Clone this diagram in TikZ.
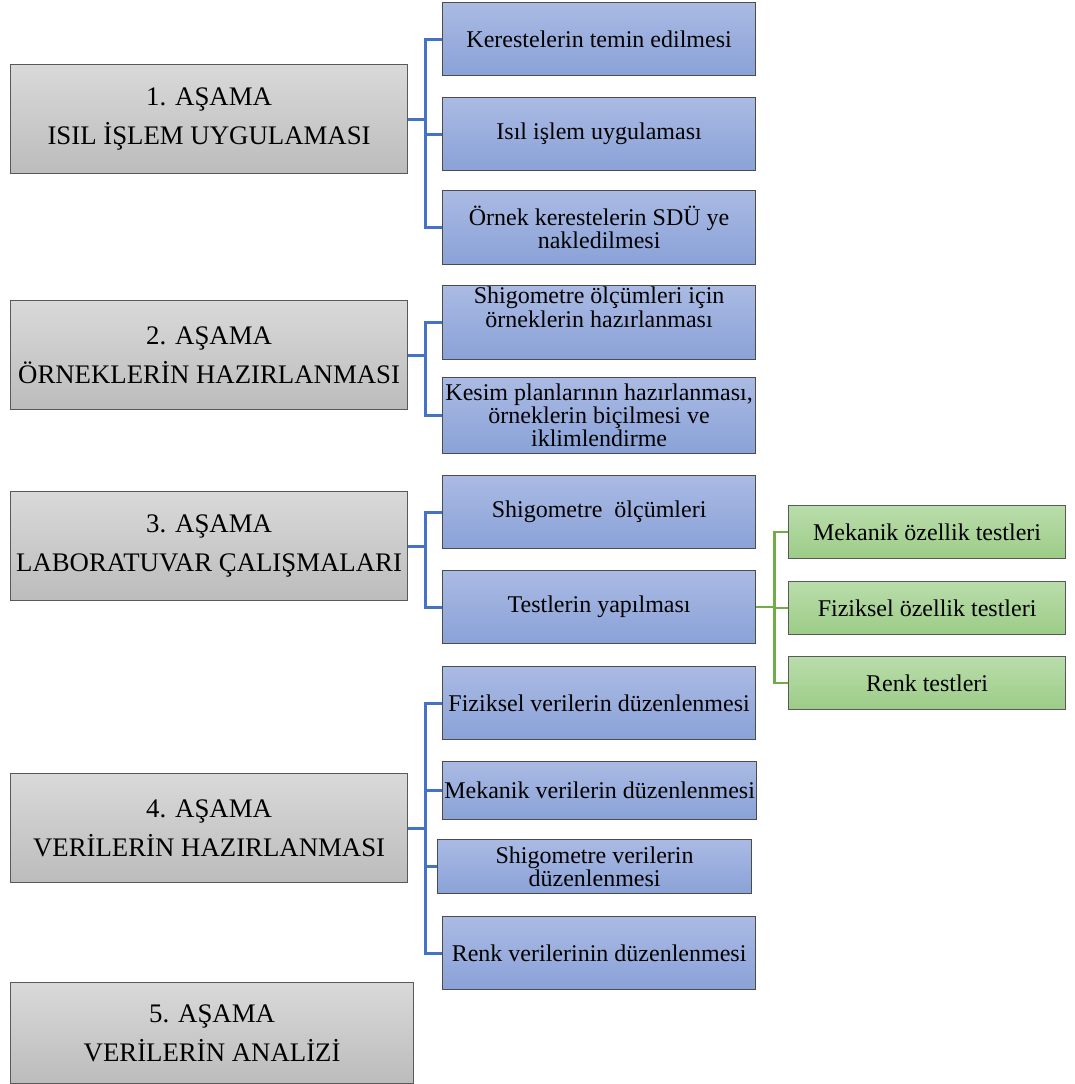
\documentclass[tikz,border=0pt]{standalone}
\usepackage{fontspec}
\setmainfont{Liberation Serif}
\usetikzlibrary{positioning}
\definecolor{stage-top}{HTML}{D9D9D9}
\definecolor{stage-bot}{HTML}{BCBCBC}
\definecolor{step-top}{HTML}{AABAE3}
\definecolor{step-bot}{HTML}{8AA2D8}
\definecolor{test-top}{HTML}{BADDAB}
\definecolor{test-bot}{HTML}{9CCC87}
\definecolor{link-blue}{HTML}{4472C4}
\definecolor{link-green}{HTML}{70AD47}
\tikzset{
  stagebox/.style={draw=black!65, line width=0.6pt, top color=stage-top, bottom color=stage-bot,
    anchor=north west, inner sep=0pt, minimum width=198.5pt, minimum height=54.5pt,
    align=center, font=\fontsize{13.4}{19.5}\selectfont},
  stepbox/.style={draw=black!70, line width=0.6pt, top color=step-top, bottom color=step-bot,
    anchor=north west, inner sep=0pt, minimum width=156.5pt, minimum height=36.5pt,
    align=center, font=\fontsize{12}{11.5}\selectfont},
  testbox/.style={draw=black!65, line width=0.6pt, top color=test-top, bottom color=test-bot,
    anchor=north west, inner sep=0pt, minimum width=138.5pt, minimum height=26.5pt,
    align=center, font=\fontsize{12}{11.5}\selectfont},
  steptext/.style={inner sep=0pt, align=center, font=\fontsize{12}{10.5}\selectfont},
  bluelink/.style={draw=link-blue, line width=1.5pt},
  greenlink/.style={draw=link-green, line width=1.35pt}
}

\begin{document}
\begin{tikzpicture}[x=0.5pt, y=-0.5pt]
    \useasboundingbox (0,0) rectangle (1075,1084);
    % ── stages (left column)
    \node[stagebox] (s1) at (10,64)  {1. AŞAMA\\ISIL İŞLEM UYGULAMASI};
    \node[stagebox] (s2) at (10,300) {2. AŞAMA\\ÖRNEKLERİN HAZIRLANMASI};
    \node[stagebox] (s3) at (10,491) {3. AŞAMA\\LABORATUVAR ÇALIŞMALARI};
    \node[stagebox] (s4) at (10,773) {4. AŞAMA\\VERİLERİN HAZIRLANMASI};
    \node[stagebox, minimum width=201.5pt, minimum height=50.5pt] (s5) at (10,982)
          {5. AŞAMA\\VERİLERİN ANALİZİ};
    % ── steps (middle column)
    \node[stepbox] (b1) at (442,2)   {Kerestelerin temin edilmesi};
    \node[stepbox] (b2) at (442,97)  {Isıl işlem uygulaması};
    \node[stepbox, minimum height=37pt] (b3) at (442,190)
          {Örnek kerestelerin SDÜ ye\\nakledilmesi};
    \node[stepbox, minimum height=37pt] (b4) at (442,285) {};
    \node[steptext] (b4-text) at ([yshift=7.5pt]b4.center)
          {Shigometre ölçümleri için\\örneklerin hazırlanması};
    \node[stepbox, minimum height=38pt] (b5) at (442,377)
          {Kesim planlarının hazırlanması,\\örneklerin biçilmesi ve\\iklimlendirme};
    \node[stepbox] (b6) at (442,475) {Shigometre~ ölçümleri};
    \node[stepbox] (b7) at (442,570) {Testlerin yapılması};
    \node[stepbox] (b8) at (442,666) {Fiziksel verilerin düzenlenmesi};
    \node[stepbox, minimum width=157pt, minimum height=29pt] (b9) at (442,761)
          {Mekanik verilerin düzenlenmesi};
    \node[stepbox, minimum width=157pt, minimum height=27pt] (b10) at (437,839)
          {Shigometre verilerin\\düzenlenmesi};
    \node[stepbox] (b11) at (442,916) {Renk verilerinin düzenlenmesi};
    % ── tests (right column)
    \node[testbox] (g1) at (788,505) {Mekanik özellik testleri};
    \node[testbox] (g2) at (788,581) {Fiziksel özellik testleri};
    \node[testbox] (g3) at (788,656) {Renk testleri};
    % ── connectors
    \foreach \b in {b1,b2,b3}
      \draw[bluelink] (s1.east) -- ++(8.5pt,0) |- (\b.west);
    \foreach \b in {b4,b5}
      \draw[bluelink] (s2.east) -- ++(8.5pt,0) |- (\b.west);
    \foreach \b in {b6,b7}
      \draw[bluelink] (s3.east) -- ++(8.5pt,0) |- (\b.west);
    \foreach \b in {b8,b9,b10,b11}
      \draw[bluelink] (s4.east) -- ++(8.5pt,0) |- (\b.west);
    \foreach \g in {g1,g2,g3}
      \draw[greenlink] (b7.east) -- ++(9pt,0) |- (\g.west);
\end{tikzpicture}
\end{document}
